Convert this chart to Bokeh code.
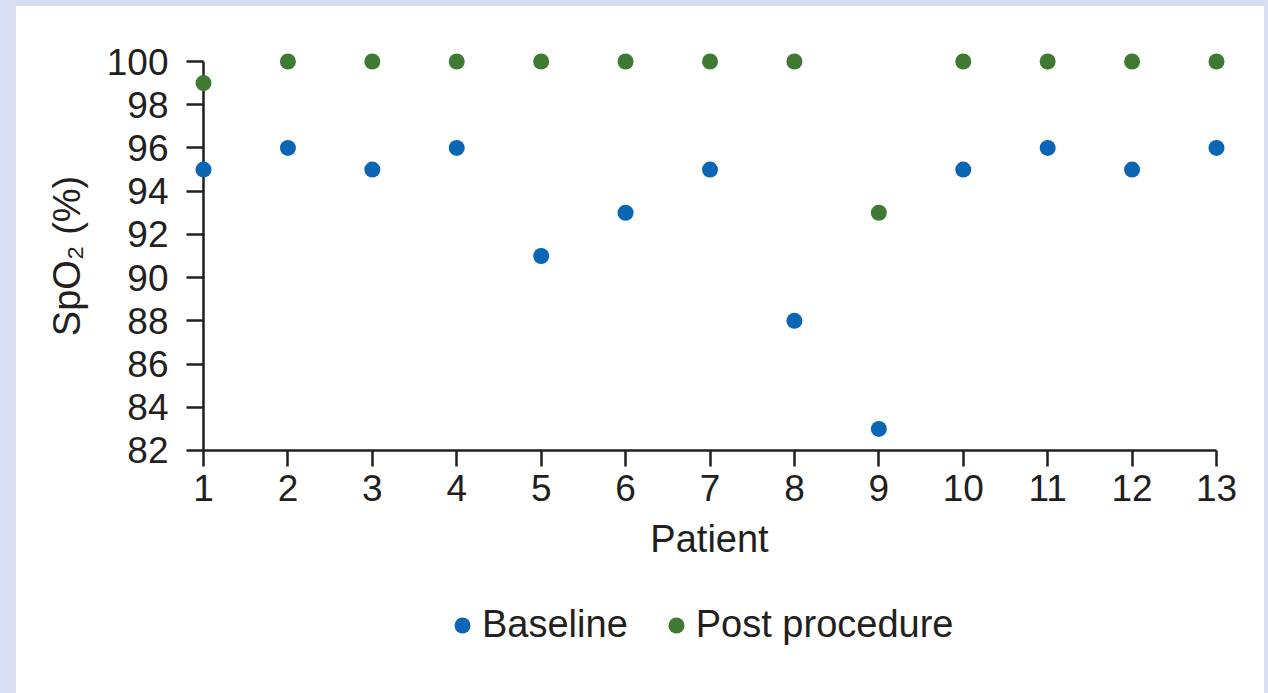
from bokeh.plotting import figure
from bokeh.models import FixedTicker, Legend, LegendItem, Range1d
from bokeh.layouts import column
from bokeh.embed import file_html
from bokeh.resources import INLINE

patients = [1, 2, 3, 4, 5, 6, 7, 8, 9, 10, 11, 12, 13]
baseline = [95, 96, 95, 96, 91, 93, 95, 88, 83, 95, 96, 95, 96]
post_procedure = [99, 100, 100, 100, 100, 100, 100, 100, 93, 100, 100, 100, 100]
y_ticks = [82, 84, 86, 88, 90, 92, 94, 96, 98, 100]
x_ticks = patients
series_names = ["Baseline", "Post procedure"]

BLUE = "#0a66b4"
GREEN = "#3e7a31"
TEXT = "#231f20"
FONT = "Liberation Sans"

xpx = 84.42
ypx = 21.61
x0, x1 = min(patients), max(patients)
y0, y1 = min(y_ticks), max(y_ticks)

W = 1248
H_MAIN = 590
H_LEG = 97

p = figure(
    width=W, height=H_MAIN,
    x_range=(x0 - 17 / xpx, x1 + 16 / xpx),
    y_range=(y0 - 16 / ypx, y1 + 16 / ypx),
    output_backend="svg", toolbar_location=None,
    min_border_left=170, min_border_right=32,
    min_border_top=39, min_border_bottom=H_MAIN - 460,
)
p.background_fill_color = None
p.border_fill_color = None
p.outline_line_color = None
p.xgrid.visible = False
p.ygrid.visible = False

for ax in (p.xaxis[0], p.yaxis[0]):
    ax.axis_line_color = None
    ax.major_tick_line_color = TEXT
    ax.major_tick_line_width = 2.5
    ax.minor_tick_line_color = None
    ax.major_tick_out = 0
    ax.major_label_text_font = FONT
    ax.major_label_text_font_size = "37px"
    ax.major_label_text_color = TEXT
    ax.axis_label_text_font = FONT
    ax.axis_label_text_font_size = "38px"
    ax.axis_label_text_font_style = "normal"
    ax.axis_label_text_color = TEXT

p.xaxis.ticker = FixedTicker(ticks=x_ticks)
p.yaxis.ticker = FixedTicker(ticks=y_ticks)
p.xaxis.major_tick_in = 16
p.yaxis.major_tick_in = 17
p.xaxis.major_label_standoff = 8
p.yaxis.major_label_standoff = 18
p.xaxis.axis_label = "Patient"
p.yaxis.axis_label = "SpO₂ (%)"
p.xaxis.axis_label_standoff = 14
p.yaxis.axis_label_standoff = 16

# axis lines through the data extent
p.segment(x0=[x0, x0], y0=[y0, y0], x1=[x1, x0], y1=[y0, y1],
          line_color=TEXT, line_width=2.5)

p.scatter(patients, baseline, size=16, color=BLUE, line_color=None)
p.scatter(patients, post_procedure, size=16, color=GREEN, line_color=None)

# legend strip below the chart
lf = figure(
    width=W, height=H_LEG,
    x_range=Range1d(-100, -99), y_range=Range1d(-100, -99),
    output_backend="svg", toolbar_location=None,
    x_axis_type=None, y_axis_type=None,
    min_border_left=0, min_border_right=0, min_border_top=0, min_border_bottom=0,
)
lf.background_fill_color = None
lf.border_fill_color = None
lf.outline_line_color = None
lf.xgrid.visible = False
lf.ygrid.visible = False
l1 = lf.scatter(patients, baseline, size=16, color=BLUE, line_color=None)
l2 = lf.scatter(patients, post_procedure, size=16, color=GREEN, line_color=None)

legend = Legend(items=[LegendItem(label=series_names[0], renderers=[l1]),
                       LegendItem(label=series_names[1], renderers=[l2])])
legend.orientation = "horizontal"
legend.location = (256, 47)
legend.label_text_font = FONT
legend.label_text_font_size = "38px"
legend.label_text_color = TEXT
legend.glyph_width = 40
legend.glyph_height = 40
legend.label_standoff = 0
legend.spacing = 28
legend.padding = 0
legend.margin = 0
legend.border_line_color = None
legend.background_fill_alpha = 0
lf.add_layout(legend, "center")

layout = column(p, lf, spacing=0, styles={"background-color": "white"})

html = file_html(layout, INLINE)
html = html.replace(
    "</head>",
    "<style>html,body{background:#d8dff2 !important;}"
    "body{margin:0 !important;padding:6px 0 0 16px !important;overflow:hidden !important;}</style></head>",
    1,
)
open("out.html", "w").write(html)
